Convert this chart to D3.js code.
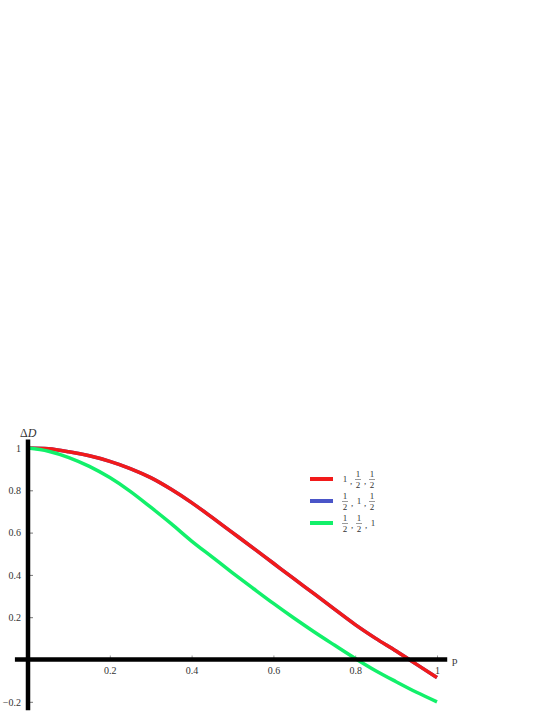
<!DOCTYPE html>
<html>
<head>
<style>
body { margin: 0; background: #fff; }
svg { display: block; }
text { font-family: "Liberation Serif", "DejaVu Serif", serif; fill: #333; }
</style>
</head>
<body>
<div id="chart"></div>
<script src="https://d3js.org/d3.v7.min.js"></script>
<script>
// values
const pValues = [0, 0.05, 0.1, 0.15, 0.2, 0.25, 0.3, 0.35, 0.4, 0.45, 0.5, 0.55, 0.6, 0.65, 0.7, 0.75, 0.8, 0.85, 0.9, 0.95, 1]
const redValues = [1, 0.996, 0.982, 0.963, 0.937, 0.903, 0.86, 0.805, 0.742, 0.672, 0.6, 0.528, 0.455, 0.382, 0.31, 0.237, 0.165, 0.1, 0.04, -0.023, -0.085]
const blueValues = redValues.slice()   // hidden under the red curve
const greenValues = [1, 0.985, 0.955, 0.913, 0.86, 0.795, 0.72, 0.642, 0.56, 0.485, 0.41, 0.337, 0.265, 0.196, 0.13, 0.067, 0.005, -0.053, -0.105, -0.155, -0.2]
const seriesNames = ["1, 1/2, 1/2", "1/2, 1, 1/2", "1/2, 1/2, 1"]
const seriesColors = ["#f21a1a", "#4a55c8", "#12f06a"]
const xTicks = [0.2, 0.4, 0.6, 0.8, 1]
const yTicks = [-0.2, 0.2, 0.4, 0.6, 0.8, 1]

const W = 554, H = 717
const x = d3.scaleLinear().domain([0, 1]).range([28, 437])
const y = d3.scaleLinear().domain([0, 1]).range([659.5, 448])
const fmt = d => d < 0 ? "\u2212" + Math.abs(d) : String(d)

const svg = d3.select("#chart").append("svg")
    .attr("width", W)
    .attr("height", H)

// minor ticks on the right of the y axis
svg.append("g")
    .attr("transform", "translate(" + x(0) + ",0)")
    .call(d3.axisRight(y).tickValues(d3.range(-0.2, 1.001, 0.05)).tickSize(2).tickFormat(""))
    .call(g => g.select(".domain").remove())
    .selectAll("line").attr("stroke", "#999")
svg.append("g")
    .attr("transform", "translate(" + x(0) + ",0)")
    .call(d3.axisRight(y).tickValues(yTicks).tickSize(5).tickFormat(""))
    .call(g => g.select(".domain").remove())
    .selectAll("line").attr("stroke", "#777")

// y labels
svg.append("g")
    .attr("transform", "translate(" + (x(0) - 4) + ",0)")
    .attr("font-family", "'Liberation Serif', serif")
    .attr("font-size", 11)
    .call(d3.axisLeft(y).tickValues(yTicks).tickSize(0).tickFormat(fmt))
    .call(g => g.select(".domain").remove())
    .selectAll("text")
        .attr("fill", "#333")

// x ticks and labels
svg.append("g")
    .attr("transform", "translate(0," + y(0) + ")")
    .call(d3.axisTop(x).tickValues(xTicks).tickSize(4).tickFormat(""))
    .call(g => g.select(".domain").remove())
    .selectAll("line").attr("stroke", "#999")
svg.append("g")
    .attr("transform", "translate(0," + (y(0) + 4) + ")")
    .attr("font-family", "'Liberation Serif', serif")
    .attr("font-size", 11)
    .call(d3.axisBottom(x).tickValues(xTicks).tickSize(0).tickFormat(fmt))
    .call(g => g.select(".domain").remove())
    .selectAll("text")
        .attr("fill", "#333")

// curves
const series = [blueValues, redValues, greenValues]
const colorOf = [seriesColors[1], seriesColors[0], seriesColors[2]]
const line = d3.line()
    .x((d, i) => x(pValues[i]))
    .y(d => y(d))
    .curve(d3.curveMonotoneX)

svg.selectAll(".curve")
    .data(series)
    .enter()
    .append("path")
    .attr("class", "curve")
    .attr("fill", "none")
    .attr("stroke", (d, i) => colorOf[i])
    .attr("stroke-width", 3.5)
    .attr("stroke-linejoin", "round")
    .attr("d", line)

// thick axes on top
svg.append("line")
    .attr("x1", x(-0.032)).attr("x2", x(1.025))
    .attr("y1", y(0)).attr("y2", y(0))
    .attr("stroke", "#000").attr("stroke-width", 4.5)
svg.append("line")
    .attr("x1", x(0)).attr("x2", x(0))
    .attr("y1", y(1.04)).attr("y2", y(-0.24))
    .attr("stroke", "#000").attr("stroke-width", 4.5)

// axis names
const dl = svg.append("text")
    .attr("x", 20).attr("y", 437)
    .style("font-size", "12px")
dl.append("tspan").text("\u0394")
dl.append("tspan").style("font-style", "italic").text("D")
svg.append("text")
    .attr("x", x(1) + 15).attr("y", y(0) + 4)
    .style("font-size", "11px")
    .text("p")

// legend
const legend = svg.append("g").attr("transform", "translate(310,479)")
seriesNames.forEach((name, i) => {
    const g = legend.append("g").attr("transform", "translate(0," + (i * 22) + ")")
    g.append("line")
        .attr("x1", 0).attr("x2", 23)
        .attr("stroke", seriesColors[i])
        .attr("stroke-width", 4)
    let cx = 32
    name.split(", ").forEach((part, j) => {
        if (j > 0) {
            g.append("text").attr("x", cx).attr("y", 5)
                .style("font-size", "9px").text(",")
            cx += 5
        }
        if (part.includes("/")) {
            const [n, dd] = part.split("/")
            g.append("text").attr("x", cx + 3).attr("y", -2.5)
                .attr("text-anchor", "middle").style("font-size", "9px").text(n)
            g.append("line").attr("x1", cx).attr("x2", cx + 6)
                .attr("y1", 0.5).attr("y2", 0.5)
                .attr("stroke", "#555").attr("stroke-width", 0.6)
            g.append("text").attr("x", cx + 3).attr("y", 8.5)
                .attr("text-anchor", "middle").style("font-size", "9px").text(dd)
            cx += 9
        } else {
            g.append("text").attr("x", cx + 3).attr("y", 2.5)
                .attr("text-anchor", "middle").style("font-size", "9px").text(part)
            cx += 8
        }
    })
})
</script>
</body>
</html>
